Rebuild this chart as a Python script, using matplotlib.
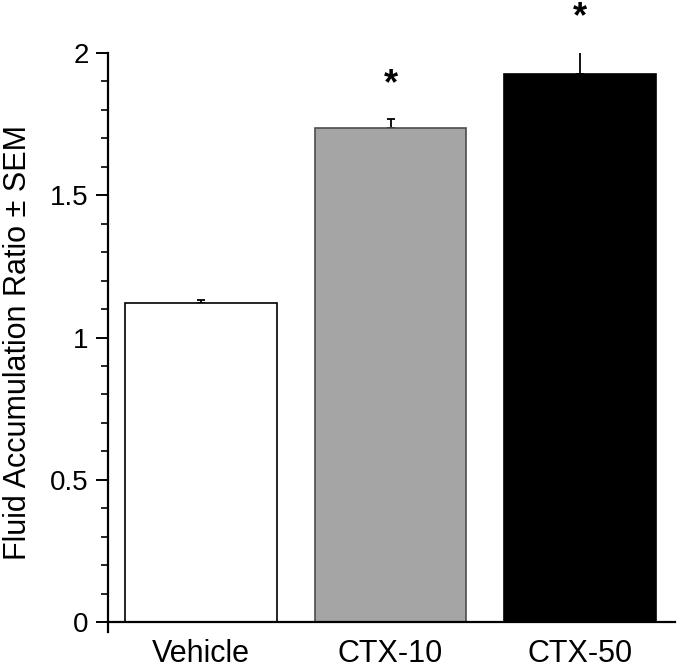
import matplotlib.pyplot as plt
import numpy as np

plt.rcParams["font.family"] = ["Liberation Sans", "DejaVu Sans"]

groups = ["Vehicle", "CTX-10", "CTX-50"]
means = [1.12, 1.735, 1.925]
sems = [0.012, 0.033, 0.078]
bar_colors = ["#ffffff", "#a5a5a5", "#000000"]
edge_colors = ["#000000", "#4d4d4d", "#000000"]
significant = [False, True, True]

x = np.arange(len(groups))
fig = plt.figure(figsize=(6.8, 6.68), dpi=100)
ax = fig.add_axes([0.1588, 0.0539, 0.8338, 0.8668])

ax.bar(x, means, width=0.8, color=bar_colors, edgecolor=edge_colors, linewidth=1.2, zorder=2)
ax.errorbar(x, means, yerr=[np.zeros(len(sems)), sems], fmt="none", ecolor="black",
            elinewidth=1.3, capsize=2.6, capthick=1.3, zorder=1)

for xi, m, s, sig in zip(x, means, sems, significant):
    if sig:
        ax.text(xi, m + s + 0.12, "*", ha="center", va="center", fontsize=26,
                fontweight="bold", clip_on=False)

ax.set_xlim(-0.49, 2.5)
ax.set_ylim(-0.035, 2.0)
ax.spines["top"].set_visible(False)
ax.spines["right"].set_visible(False)
ax.spines["bottom"].set_position(("data", 0))
ax.spines["left"].set_linewidth(1.6)
ax.spines["bottom"].set_linewidth(1.6)

ax.set_yticks([0, 0.5, 1, 1.5, 2])
ax.set_yticklabels(["0", "0.5", "1", "1.5", "2"])
ax.set_yticks(np.arange(0, 2.0, 0.1), minor=True)
ax.tick_params(axis="y", which="major", length=9, width=1.4, labelsize=20, pad=5)
ax.tick_params(axis="y", which="minor", length=5, width=1.2)
ax.set_xticks(x)
ax.set_xticklabels(groups)
ax.tick_params(axis="x", length=0, labelsize=22, pad=12)

ax.set_ylabel("Fluid Accumulation Ratio ± SEM", fontsize=22, labelpad=12)

plt.savefig("out.png", dpi=100)
